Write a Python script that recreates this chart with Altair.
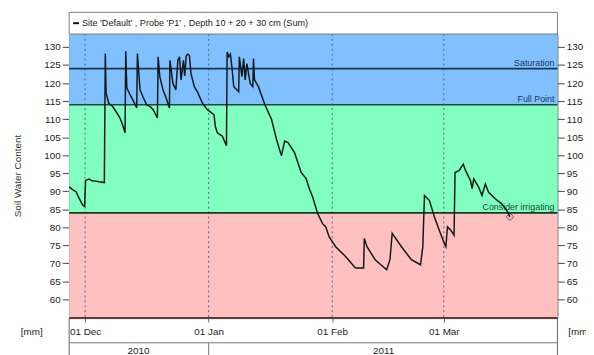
import altair as alt
import pandas as pd

# ---- data ----
# day offsets from 01 Dec 2010 00:00 and soil water content [mm]
days = [-3.96, -3.22, -2.23, -1.49, -0.62, -0.12, 0.12, 0.99, 1.73, 2.72, 3.47, 4.83,
        5.07, 5.27, 5.94, 6.93, 7.99, 8.66, 9.23, 10.02,
        10.20, 10.47, 11.31, 12.13, 12.95,
        13.12, 13.79, 14.60, 15.42, 16.34, 17.08, 18.14,
        18.32, 18.74, 19.55, 20.30, 21.16,
        21.29, 22.03, 22.77, 23.27, 23.69, 24.08, 24.68, 25.00, 25.37, 25.74, 26.16,
        26.56, 27.40, 28.22, 29.46, 30.69, 31.44, 32.35, 32.67, 33.17, 34.41, 35.47,
        35.64, 36.06, 36.46, 36.88, 37.30, 38.54,
        38.69, 39.36, 39.78, 40.17, 40.59, 41.41, 42.08,
        42.25, 42.50, 43.49, 45.12, 46.78, 48.02, 49.26,
        50.07, 50.92, 52.55, 54.21, 55.45, 56.26, 57.10, 58.34, 59.58, 60.40, 61.21,
        62.87, 65.35, 67.82, 69.88,
        70.05, 70.72, 72.77, 75.67, 76.49,
        77.05, 79.38, 81.86, 84.16, 84.73,
        85.15, 86.39, 87.62, 88.86, 90.10, 90.52, 90.92, 91.76, 92.57,
        92.82, 93.81, 94.88, 95.47, 96.71, 97.10, 97.52, 98.76, 99.58, 100.42, 101.24,
        102.90, 104.53, 105.77, 106.61]
swc = [91.2, 90.5, 89.8, 88.0, 86.2, 85.8, 93.0, 93.4, 92.9, 92.8, 92.6, 92.4,
       128.2, 117.2, 114.4, 113.5, 111.7, 110.5, 109.0, 106.2,
       128.9, 118.6, 116.7, 115.0, 113.1,
       128.2, 118.1, 116.0, 114.0, 113.5, 112.6, 110.3,
       127.3, 121.8, 118.1, 116.0, 113.1,
       126.3, 119.9, 118.1, 126.3, 127.3, 120.9, 126.3, 122.0, 127.5, 128.0, 127.7,
       122.7, 119.0, 117.5, 114.4, 112.6, 112.0, 111.2, 108.0, 106.2, 105.3, 102.6,
       128.6, 127.3, 128.0, 124.0, 119.0, 117.6,
       127.3, 121.8, 126.8, 120.9, 125.4, 119.9, 119.0,
       126.8, 120.9, 119.0, 114.0, 109.9, 104.4, 99.8,
       103.9, 103.5, 100.7, 95.2, 93.5, 90.7, 88.4, 83.8, 81.0, 80.1, 77.4,
       74.6, 71.9, 68.7, 68.7,
       76.9, 74.6, 71.0, 68.2, 71.0,
       78.3, 74.6, 71.0, 69.6, 74.6,
       88.8, 87.4, 82.9, 79.2, 75.6, 74.6, 80.1, 79.2, 77.8,
       95.2, 95.7, 97.5, 95.7, 92.9, 90.7, 93.4, 91.1, 88.8, 92.0, 89.7,
       87.9, 86.5, 84.7, 82.9]

month_starts = ["2010-12-01", "2011-01-01", "2011-02-01", "2011-03-01"]
y_ticks = list(range(60, 131, 5))
thresholds = [124, 114, 84]
threshold_labels = ["Saturation", "Full Point", "Consider irrigating"]
threshold_colors = ["#1d3550", "#1d4a3c", "#163a2a"]
label_colors = ["#1a3560", "#1a3a60", "#0f5034"]
band_low = [54.8, 84, 114]
band_high = [84, 114, 133.6]
band_colors = ["#ffc0c0", "#80ffc0", "#80c0ff"]
years = ["2010", "2011"]
year_centers = ["2010-12-14 10:00", "2011-02-13 21:00"]
legend_text = "Site 'Default' , Probe 'P1' , Depth 10 + 20 + 30 cm  (Sum)"
y_title = "Soil Water Content"
unit_label = "[mm]"

W, H = 495, 288
FONT = "Liberation Sans"

base_day = pd.Timestamp("2010-12-01")
line_df = pd.DataFrame({"t": base_day + pd.to_timedelta(days, unit="D"), "v": swc})
end_df = line_df.tail(1)
month_df = pd.DataFrame({"t": pd.to_datetime(month_starts)})
jan_df = month_df.iloc[[1]]
thr_df = pd.DataFrame({"v": thresholds, "label": threshold_labels,
                       "c": threshold_colors, "lc": label_colors})
band_df = pd.DataFrame({"lo": band_low, "hi": band_high, "c": band_colors})
year_df = pd.DataFrame({"t": pd.to_datetime(year_centers), "year": years})
one = pd.DataFrame({"a": [0]})

x_scale = alt.Scale(domain=[alt.DateTime(year=2010, month=11, date=27),
                            alt.DateTime(year=2011, month=3, date=29, hours=12)])
y_scale = alt.Scale(domain=[54.8, 133.6], nice=False, zero=False)

x_axis = alt.Axis(values=[alt.DateTime(year=2010, month=12, date=1),
                          alt.DateTime(year=2011, month=1, date=1),
                          alt.DateTime(year=2011, month=2, date=1),
                          alt.DateTime(year=2011, month=3, date=1)],
                  format="%d %b", title=None, grid=False, domain=False,
                  tickSize=4, tickColor="#666", labelPadding=5, labelFontSize=10,
                  labelFont=FONT, labelColor="#222")
X = alt.X("t:T", scale=x_scale, axis=x_axis)


def y_axis(orient):
    return alt.Axis(orient=orient, values=y_ticks, title=None, grid=False, domain=False,
                    tickSize=7, tickColor="#444", labelPadding=2, labelFontSize=10,
                    labelFont=FONT, labelColor="#222")


bands = alt.Chart(band_df).mark_rect().encode(
    x=alt.value(0), x2=alt.value(W),
    y=alt.Y("lo:Q", scale=y_scale, axis=y_axis("left")),
    y2="hi:Q",
    fill=alt.Fill("c:N", scale=None),
)

month_rules = alt.Chart(month_df).mark_rule(color="#55628a", strokeWidth=1, strokeDash=[2, 3]).encode(
    x=X, y=alt.value(0), y2=alt.value(H)
)

thr_rules = alt.Chart(thr_df).mark_rule(strokeWidth=1.6).encode(
    y=alt.Y("v:Q", scale=y_scale, axis=None),
    x=alt.value(0), x2=alt.value(W),
    color=alt.Color("c:N", scale=None),
)

thr_text = alt.Chart(thr_df).mark_text(align="right", baseline="bottom", dy=-1,
                                       fontSize=9, font=FONT).encode(
    y=alt.Y("v:Q", scale=y_scale, axis=None),
    x=alt.value(W - 3),
    text="label:N",
    color=alt.Color("lc:N", scale=None),
)

line = alt.Chart(line_df).mark_line(color="#111a1a", strokeWidth=1.5).encode(
    x=X, y=alt.Y("v:Q", scale=y_scale, axis=y_axis("right"))
)

end_pt = alt.Chart(end_df).mark_point(shape="diamond", filled=False, size=55,
                                      color="#222", strokeWidth=1).encode(
    x=X, y=alt.Y("v:Q", scale=y_scale, axis=None)
)

# header (legend) box
head_box = alt.Chart(one).mark_rect(fill="white", stroke="#7a7a7a", strokeWidth=1).encode(
    x=alt.value(0), x2=alt.value(W), y=alt.value(-22), y2=alt.value(0)
)
head_sym = alt.Chart(one).mark_rule(color="#111", strokeWidth=2).encode(
    x=alt.value(4), x2=alt.value(10), y=alt.value(-11)
)
head_txt = alt.Chart(one).mark_text(align="left", baseline="middle", fontSize=9.2,
                                    font=FONT, color="#222").encode(
    x=alt.value(13), y=alt.value(-11), text=alt.value(legend_text)
)

# bottom frame
bottom_line = alt.Chart(one).mark_rule(color="#5a3a3a", strokeWidth=2).encode(
    x=alt.value(0), x2=alt.value(W), y=alt.value(H)
)
row_line = alt.Chart(one).mark_rule(color="#777", strokeWidth=1).encode(
    x=alt.value(0), x2=alt.value(W), y=alt.value(313)
)
left_edge = alt.Chart(one).mark_rule(color="#666", strokeWidth=1).encode(
    x=alt.value(0), y=alt.value(H), y2=alt.value(350)
)
right_edge = alt.Chart(one).mark_rule(color="#666", strokeWidth=1).encode(
    x=alt.value(W), y=alt.value(H), y2=alt.value(350)
)
jan_sep = alt.Chart(jan_df).mark_rule(color="#777", strokeWidth=1).encode(
    x=X, y=alt.value(313), y2=alt.value(350)
)
year_txt = alt.Chart(year_df).mark_text(baseline="top", fontSize=10, font=FONT, color="#222").encode(
    x=X, y=alt.value(316), text="year:N"
)
unit_left = alt.Chart(one).mark_text(align="center", baseline="middle", fontSize=10,
                                     font=FONT, color="#222").encode(
    x=alt.value(-38), y=alt.value(302), text=alt.value(unit_label)
)
unit_right = alt.Chart(one).mark_text(align="left", baseline="middle", fontSize=10,
                                      font=FONT, color="#222").encode(
    x=alt.value(506), y=alt.value(302), text=alt.value(unit_label)
)
ytitle = alt.Chart(one).mark_text(align="center", baseline="middle", fontSize=10, angle=270,
                                  font=FONT, color="#333").encode(
    x=alt.value(-52), y=alt.value(144), text=alt.value(y_title)
)

chart = alt.layer(
    bands, month_rules, thr_rules, thr_text, line, end_pt,
    head_box, head_sym, head_txt,
    bottom_line, row_line, left_edge, right_edge, jan_sep, year_txt,
    unit_left, unit_right, ytitle,
).resolve_scale(y="shared").resolve_axis(y="independent").properties(
    width=W, height=H,
    autosize=alt.AutoSizeParams(type="none"),
    padding={"left": 62, "top": 24, "right": 29, "bottom": 35},
).configure_view(stroke="#555", strokeWidth=1)

chart.save("out.html", embed_options={"renderer": "svg", "actions": False})
